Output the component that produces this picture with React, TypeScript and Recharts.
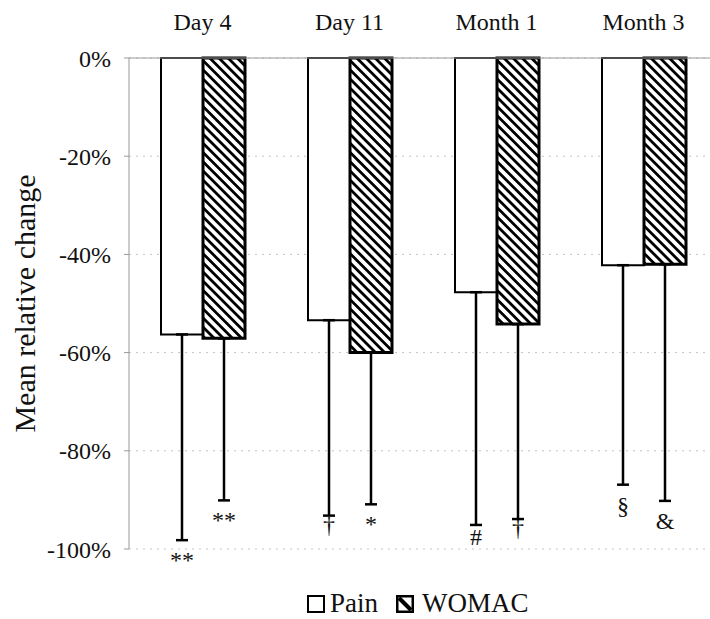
import React from 'react';
import { BarChart, Bar, XAxis, YAxis, CartesianGrid, ErrorBar, LabelList, Label } from 'recharts';

// values (mean relative change, %, and lower SD)
const categories = ['Day 4', 'Day 11', 'Month 1', 'Month 3'];
const painMean = [-56.3, -53.4, -47.7, -42.2];
const painSD = [41.9, 39.8, 47.4, 44.7];
const womacMean = [-57.1, -60.0, -54.2, -42.0];
const womacSD = [33.0, 30.9, 39.7, 48.2];
const painMarks = ['**', '†', '#', '§'];
const womacMarks = ['**', '*', '†', '&'];
const yTicks = [0, -20, -40, -60, -80, -100];

const data = categories.map((name, i) => ({
  name,
  pain: painMean[i],
  painErr: [painSD[i], 0],
  painMark: painMarks[i],
  womac: womacMean[i],
  womacErr: [womacSD[i], 0],
  womacMark: womacMarks[i],
}));

const FONT = "'Liberation Serif', 'Times New Roman', serif";

// baseline distance below the error bar end, per glyph
const MARK_DY: Record<string, number> = { '*': 28, '**': 28, '#': 20, '†': 17, '§': 29, '&': 28 };

const markLabel = (marks: string[], means: number[], sds: number[]) => (props: any) => {
  const vb = props.viewBox && props.viewBox.width != null ? props.viewBox : props;
  const { x, y, width, height } = vb;
  const i = props.index;
  const top = Math.min(y, y + height);
  const bottom = Math.max(y, y + height);
  const perUnit = (bottom - top) / Math.abs(means[i]);
  const endY = top + (Math.abs(means[i]) + sds[i]) * perUnit;
  const mark = marks[i];
  return (
    <text
      x={x + width / 2}
      y={endY + (MARK_DY[mark] ?? 28)}
      textAnchor="middle"
      style={{ fontFamily: FONT, fontSize: 24 }}
      fill="#111"
    >
      {mark}
    </text>
  );
};

const YLabel = (props: any) => {
  const vb = props.viewBox || {};
  const cy = vb.y != null ? vb.y + vb.height / 2 : 304;
  return (
    <text
      x={24}
      y={cy}
      transform={`rotate(-90 24 ${cy})`}
      textAnchor="middle"
      dominantBaseline="central"
      style={{ fontFamily: FONT, fontSize: 30 }}
      fill="#111"
    >
      Mean relative change
    </text>
  );
};

const tickStyle = { fontFamily: FONT, fontSize: 24, fill: '#111' };

export default function App() {
  return (
    <div style={{ position: 'absolute', left: 0, top: 0, width: 710, height: 619, overflow: 'hidden', background: '#fff' }}>
      <BarChart
        width={720}
        height={619}
        data={data}
        margin={{ top: 0, right: 3, bottom: 70, left: 0 }}
        barGap={0}
        barSize={42}
      >
        <defs>
          <pattern id="hatch" patternUnits="userSpaceOnUse" width="6.5" height="6.5" patternTransform="rotate(-45)">
            <rect width="6.5" height="6.5" fill="#fff" />
            <line x1="3.25" y1="0" x2="3.25" y2="6.5" stroke="#000" strokeWidth="2.8" />
          </pattern>
        </defs>
        <CartesianGrid vertical={false} stroke="#c4c4c4" strokeDasharray="2 5" />
        <XAxis
          dataKey="name"
          orientation="top"
          height={58}
          axisLine={{ stroke: '#999' }}
          tickLine={false}
          tickSize={0}
          tickMargin={28}
          tick={tickStyle}
        />
        <YAxis
          domain={[-100, 0]}
          ticks={yTicks}
          width={129}
          tickFormatter={(v: number) => `${v}%`}
          axisLine={{ stroke: '#999' }}
          tickLine={{ stroke: '#999' }}
          tickSize={5}
          tickMargin={13}
          tick={tickStyle}
        >
          <Label content={YLabel} />
        </YAxis>
        <Bar dataKey="pain" fill="#fff" stroke="#000" strokeWidth={2} isAnimationActive={false}>
          <ErrorBar dataKey="painErr" direction="y" width={6} stroke="#000" strokeWidth={2.5} />
          <LabelList dataKey="painMark" content={markLabel(painMarks, painMean, painSD)} />
        </Bar>
        <Bar dataKey="womac" fill="url(#hatch)" stroke="#000" strokeWidth={3} isAnimationActive={false}>
          <ErrorBar dataKey="womacErr" direction="y" width={6} stroke="#000" strokeWidth={2.5} />
          <LabelList dataKey="womacMark" content={markLabel(womacMarks, womacMean, womacSD)} />
        </Bar>
      </BarChart>
      <div
        style={{
          position: 'absolute',
          left: 307,
          top: 590,
          height: 27,
          display: 'flex',
          alignItems: 'center',
          fontFamily: FONT,
          fontSize: 27,
          lineHeight: '27px',
          color: '#111',
        }}
      >
        <svg width={18} height={18} style={{ display: 'block' }}>
          <rect x={1} y={1} width={16} height={16} fill="#fff" stroke="#000" strokeWidth={2} />
        </svg>
        <span style={{ marginLeft: 5 }}>Pain</span>
        <svg width={18} height={18} style={{ display: 'block', marginLeft: 18 }}>
          <rect x={1.25} y={1.25} width={15.5} height={15.5} fill="#fff" stroke="#000" strokeWidth={2.5} />
          <line x1={3} y1={3} x2={15} y2={15} stroke="#000" strokeWidth={4} />
        </svg>
        <span style={{ marginLeft: 8 }}>WOMAC</span>
      </div>
    </div>
  );
}
